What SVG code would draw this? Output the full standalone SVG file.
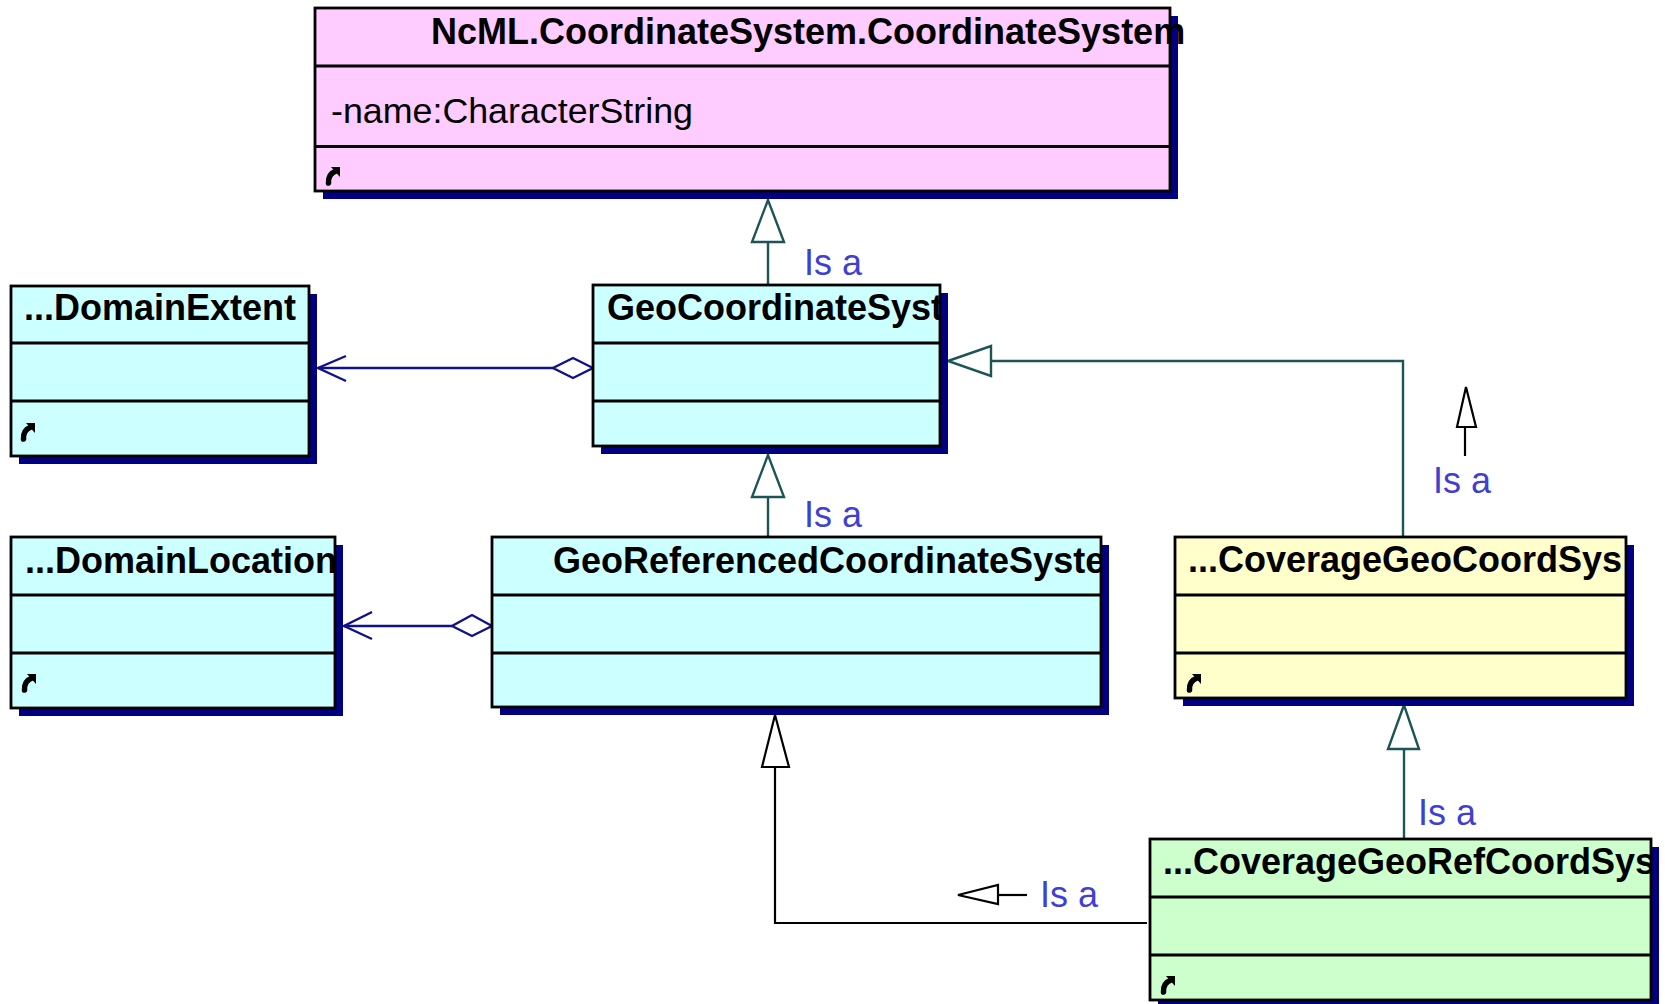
<svg xmlns="http://www.w3.org/2000/svg" width="1665" height="1004" viewBox="0 0 1665 1004">
<style>
.shadow{fill:#000080}
.box{stroke:#000;stroke-width:2.8}
.div{stroke:#000;stroke-width:2.8}
.title{font-family:"Liberation Sans",Arial,sans-serif;font-weight:bold;font-size:36px;fill:#000}
.attr{font-family:"Liberation Sans",Arial,sans-serif;font-size:35px;fill:#000}
.lbl{font-family:"Liberation Sans",Arial,sans-serif;font-size:36px;fill:#3f3fd4}
.teal{stroke:#1d5454;stroke-width:2.4;fill:none}
.tealhead{stroke:#1d5454;stroke-width:2.4;fill:#fff}
.blk{stroke:#000;stroke-width:2.2;fill:none}
.blkhead{stroke:#000;stroke-width:2.2;fill:#fff}
.navy{stroke:#11118a;stroke-width:2.4;fill:none}
.navyhead{stroke:#11118a;stroke-width:2.4;fill:#fff}
.pink{fill:#ffccff}.cyan{fill:#ccffff}.yellow{fill:#ffffcc}.green{fill:#ccffcc}
</style>
<defs>
<g id="opicon">
<path d="M6,0 L15,0 L15,10 Z" fill="#000"/>
<path d="M11,4 Q3,7 3.5,16" stroke="#000" stroke-width="5.5" fill="none" stroke-linecap="round"/>
</g>
<clipPath id="c3"><rect x="593" y="285" width="347" height="58"/></clipPath>
<clipPath id="c4"><rect x="11" y="537" width="324" height="58"/></clipPath>
<clipPath id="c5"><rect x="492" y="537" width="609" height="58"/></clipPath>
<clipPath id="c7"><rect x="1150" y="839" width="501" height="58"/></clipPath>
</defs>

<g id="connectors">
<line class="teal" x1="768" y1="285" x2="768" y2="242"/>
<polygon class="tealhead" points="768,200 752,242 784,242"/>
<text class="lbl" x="804" y="275">Is a</text>
<line class="teal" x1="768" y1="537" x2="768" y2="497"/>
<polygon class="tealhead" points="768,455 752,497 784,497"/>
<text class="lbl" x="804" y="527">Is a</text>
<polyline class="teal" points="1403,537 1403,361 991,361"/>
<polygon class="tealhead" points="948,361 991,346 991,376"/>
<line class="blk" x1="1465" y1="427" x2="1465" y2="456"/>
<polygon class="blkhead" points="1466,387 1457,427 1476,427"/>
<text class="lbl" x="1433" y="493">Is a</text>
<line class="teal" x1="1404" y1="839" x2="1404" y2="749"/>
<polygon class="tealhead" points="1404,705 1388,749 1419,749"/>
<text class="lbl" x="1418" y="825">Is a</text>
<polyline class="blk" points="1147,923 775,923 775,767"/>
<polygon class="blkhead" points="775,715 762,767 789,767"/>
<line class="blk" x1="998" y1="895" x2="1027" y2="895"/>
<polygon class="blkhead" points="958,895 998,885 998,904"/>
<text class="lbl" x="1040" y="907">Is a</text>
<line class="navy" x1="318" y1="368" x2="553" y2="368"/>
<polyline class="navy" points="346,356 318,368 346,381"/>
<polygon class="navyhead" points="593,368 573,358 553,368 573,378"/>
<line class="navy" x1="344" y1="626" x2="452" y2="626"/>
<polyline class="navy" points="372,612 344,626 372,639"/>
<polygon class="navyhead" points="492,626 472,615 452,626 472,636"/>
</g>

<g id="node-coordinatesystem">
<rect class="shadow" x="323" y="16" width="855" height="183"/>
<rect class="box pink" x="315" y="8" width="855" height="183"/>
<line class="div" x1="315" y1="66" x2="1170" y2="66"/>
<line class="div" x1="315" y1="146.5" x2="1170" y2="146.5"/>
<text class="title" x="431" y="44">NcML.CoordinateSystem.CoordinateSystem</text>
<text class="attr" x="331" y="123" textLength="362" lengthAdjust="spacingAndGlyphs">-name:CharacterString</text>
<use href="#opicon" x="325" y="167"/>
</g>

<g id="node-domainextent">
<rect class="shadow" x="19" y="294" width="298" height="170"/>
<rect class="box cyan" x="11" y="286" width="298" height="170"/>
<line class="div" x1="11" y1="343" x2="309" y2="343"/>
<line class="div" x1="11" y1="401" x2="309" y2="401"/>
<text class="title" x="24" y="320">...DomainExtent</text>
<use href="#opicon" x="20" y="423"/>
</g>

<g id="node-geocoordinatesystem">
<rect class="shadow" x="601" y="293" width="347" height="161"/>
<rect class="box cyan" x="593" y="285" width="347" height="161"/>
<line class="div" x1="593" y1="343" x2="940" y2="343"/>
<line class="div" x1="593" y1="401" x2="940" y2="401"/>
<text class="title" x="607" y="320" clip-path="url(#c3)">GeoCoordinateSyst</text>
</g>

<g id="node-domainlocation">
<rect class="shadow" x="19" y="545" width="324" height="171"/>
<rect class="box cyan" x="11" y="537" width="324" height="171"/>
<line class="div" x1="11" y1="595" x2="335" y2="595"/>
<line class="div" x1="11" y1="653" x2="335" y2="653"/>
<text class="title" x="25" y="573" clip-path="url(#c4)">...DomainLocation</text>
<use href="#opicon" x="21" y="674"/>
</g>

<g id="node-georeferenced">
<rect class="shadow" x="500" y="545" width="609" height="170"/>
<rect class="box cyan" x="492" y="537" width="609" height="170"/>
<line class="div" x1="492" y1="595" x2="1101" y2="595"/>
<line class="div" x1="492" y1="653" x2="1101" y2="653"/>
<text class="title" x="553" y="573" clip-path="url(#c5)">GeoReferencedCoordinateSyste</text>
</g>

<g id="node-coveragegeocoordsys">
<rect class="shadow" x="1183" y="545" width="451" height="161"/>
<rect class="box yellow" x="1175" y="537" width="451" height="161"/>
<line class="div" x1="1175" y1="595" x2="1626" y2="595"/>
<line class="div" x1="1175" y1="653" x2="1626" y2="653"/>
<text class="title" x="1188" y="572">...CoverageGeoCoordSys</text>
<use href="#opicon" x="1186" y="674"/>
</g>

<g id="node-coveragegeorefcoordsys">
<rect class="shadow" x="1158" y="847" width="501" height="161"/>
<rect class="box green" x="1150" y="839" width="501" height="161"/>
<line class="div" x1="1150" y1="897" x2="1651" y2="897"/>
<line class="div" x1="1150" y1="955" x2="1651" y2="955"/>
<text class="title" x="1163" y="874" clip-path="url(#c7)">...CoverageGeoRefCoordSys</text>
<use href="#opicon" x="1160" y="976"/>
</g>
</svg>
